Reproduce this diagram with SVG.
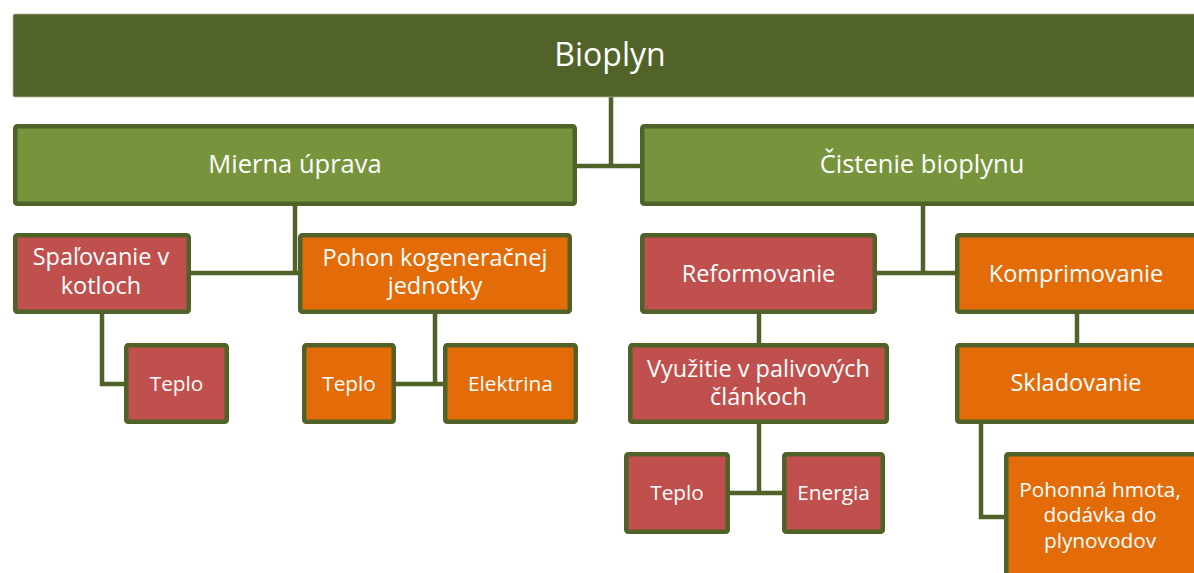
<svg xmlns="http://www.w3.org/2000/svg" width="1194" height="573" viewBox="0 0 1194 573">
<style>
.t{font-family:"Open Sans","Noto Sans","Liberation Sans",sans-serif;fill:#FFFFFF;text-anchor:middle}
.b{stroke:#4F6228;stroke-width:4.5}
.g{fill:#77933C}
.r{fill:#C0504D}
.o{fill:#E36C09}
.c{fill:none;stroke:#4F6228;stroke-width:4.5}
.l2{font-size:25.5px}
.l3{font-size:23.5px}
.l4{font-size:20.8px}
</style>
<rect width="1194" height="573" fill="#FFFFFF"/>
<g id="connectors">
<path class="c" d="M611,97 V166 M577,166 H640"/>
<path class="c" d="M295,206 V273 M191,273 H298"/>
<path class="c" d="M102,313 V384 H124"/>
<path class="c" d="M435,313 V384 M396,384 H443"/>
<path class="c" d="M923,206 V273 M877,273 H955"/>
<path class="c" d="M759,314 V343"/>
<path class="c" d="M759,424 V493 M730,493 H782"/>
<path class="c" d="M1077,314 V343"/>
<path class="c" d="M981,424 V517 H1004"/>
</g>
<g id="bioplyn">
<rect x="13" y="14" width="1194" height="83" rx="2" fill="#526329" stroke="#A9B58F" stroke-width="0.8"/>
<text class="t" x="610" y="66" font-size="32">Bioplyn</text>
</g>
<g id="mierna">
<rect class="b g" x="15.25" y="126.25" width="559.5" height="77.5" rx="2"/>
<text class="t l2" x="295" y="173">Mierna úprava</text>
</g>
<g id="cistenie">
<rect class="b g" x="642.25" y="126.25" width="559.5" height="77.5" rx="2"/>
<text class="t l2" x="922" y="173">Čistenie bioplynu</text>
</g>
<g id="spalovanie">
<rect class="b r" x="15.25" y="235.25" width="173.5" height="76.5" rx="2"/>
<text class="t l3" x="101" y="265">Spaľovanie v</text>
<text class="t l3" x="101" y="294">kotloch</text>
</g>
<g id="pohon">
<rect class="b o" x="300.25" y="235.25" width="269.5" height="76.5" rx="2"/>
<text class="t l3" x="435" y="265.5">Pohon kogeneračnej</text>
<text class="t l3" x="435" y="294">jednotky</text>
</g>
<g id="teplo1">
<rect class="b r" x="126.25" y="345.25" width="100.5" height="76.5" rx="2"/>
<text class="t l4" x="176.5" y="390.5">Teplo</text>
</g>
<g id="teplo2">
<rect class="b o" x="304.25" y="345.25" width="89.5" height="76.5" rx="2"/>
<text class="t l4" x="349" y="390.5">Teplo</text>
</g>
<g id="elektrina">
<rect class="b o" x="445.25" y="345.25" width="130.5" height="76.5" rx="2"/>
<text class="t l4" x="510.5" y="390.5">Elektrina</text>
</g>
<g id="reformovanie">
<rect class="b r" x="642.25" y="235.25" width="232.5" height="76.5" rx="2"/>
<text class="t l3" x="758.5" y="281.5">Reformovanie</text>
</g>
<g id="komprimovanie">
<rect class="b o" x="957.25" y="235.25" width="240" height="76.5" rx="2"/>
<text class="t l3" x="1076" y="281.5">Komprimovanie</text>
</g>
<g id="vyuzitie">
<rect class="b r" x="630.25" y="345.25" width="256.5" height="76.5" rx="2"/>
<text class="t l3" x="758.5" y="376.5">Využitie v palivových</text>
<text class="t l3" x="758.5" y="404.5">článkoch</text>
</g>
<g id="skladovanie">
<rect class="b o" x="957.25" y="345.25" width="240" height="76.5" rx="2"/>
<text class="t l3" x="1076" y="391">Skladovanie</text>
</g>
<g id="teplo3">
<rect class="b r" x="626.25" y="454.25" width="101.5" height="77.5" rx="2"/>
<text class="t l4" x="677" y="500">Teplo</text>
</g>
<g id="energia">
<rect class="b r" x="784.25" y="454.25" width="98.5" height="77.5" rx="2"/>
<text class="t l4" x="833.5" y="500">Energia</text>
</g>
<g id="pohonna">
<rect class="b o" x="1006.25" y="454.25" width="200" height="160" rx="2"/>
<text class="t l4" x="1100" y="497">Pohonná hmota,</text>
<text class="t l4" x="1100" y="522">dodávka do</text>
<text class="t l4" x="1100" y="548">plynovodov</text>
</g>
</svg>
